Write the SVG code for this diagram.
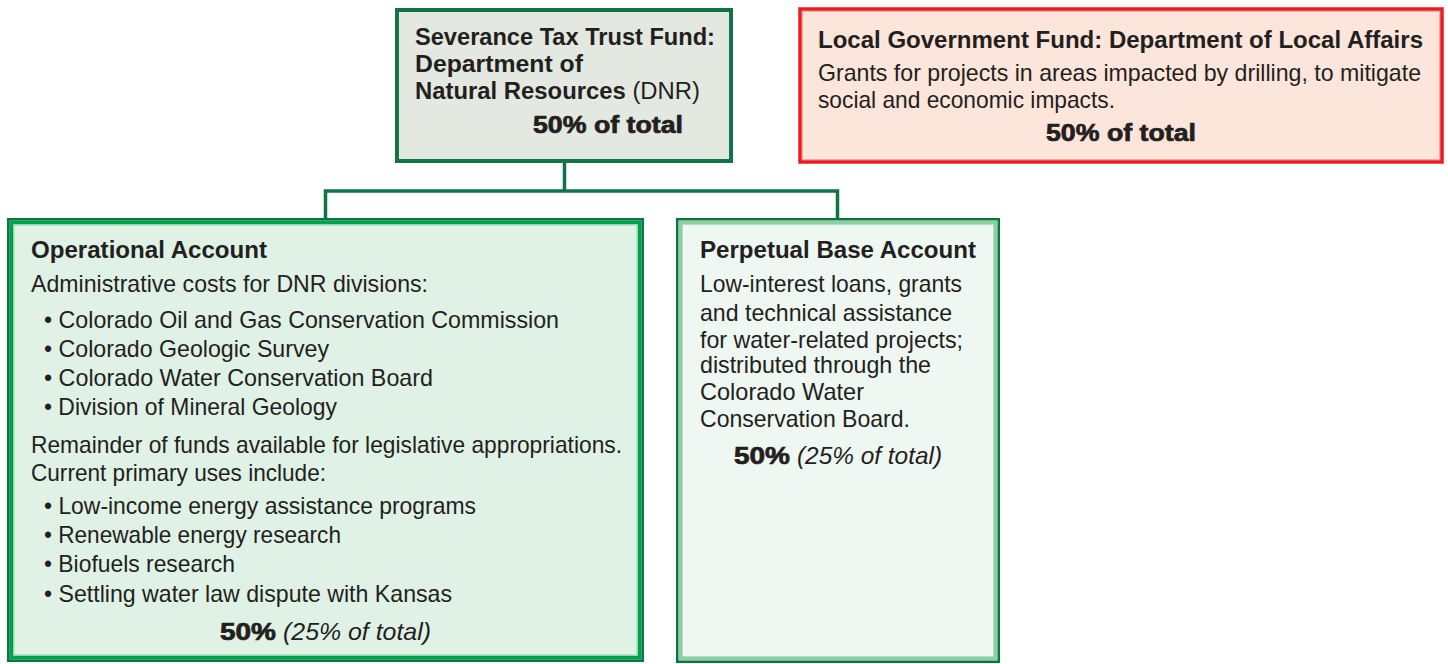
<svg xmlns="http://www.w3.org/2000/svg" width="1448" height="664" viewBox="0 0 1448 664">
  <style>
    text { font-family: "Liberation Sans", Arial, Helvetica, sans-serif; fill: #231f20; font-size: 24px; }
    .b { font-weight: bold; }
    .blk { font-weight: bold; stroke: #231f20; stroke-width: 0.7; }
    .h { font-weight: bold; font-size: 23.5px; }
    .it { font-style: italic; }
    .reg { font-weight: normal; }
    .conn { fill: none; stroke: #117447; stroke-width: 3.5; stroke-linecap: square; }
  </style>

  <!-- connectors -->
  <g id="connectors">
    <path class="conn" d="M564.5,163 V191 M325.5,191 H837.5 M325.5,191 V218 M837.5,191 V218"/>
  </g>

  <!-- Severance Tax Trust Fund -->
  <g id="severance">
    <rect x="397" y="10" width="334" height="151" fill="#e3e8e1" stroke="#117447" stroke-width="4"/>
    <text class="h" x="415" y="45" textLength="300" lengthAdjust="spacingAndGlyphs">Severance Tax Trust Fund:</text>
    <text class="h" x="415" y="72" textLength="168" lengthAdjust="spacingAndGlyphs">Department of</text>
    <text class="h" x="415" y="99" textLength="285" lengthAdjust="spacingAndGlyphs">Natural Resources<tspan class="reg"> (DNR)</tspan></text>
    <text class="blk" x="533" y="133" textLength="150" lengthAdjust="spacingAndGlyphs">50% of total</text>
  </g>

  <!-- Local Government Fund -->
  <g id="local-government">
    <rect x="800" y="9" width="642" height="153" fill="#fce5db" stroke="#ec1c24" stroke-width="3.5"/>
    <rect x="802.5" y="11.5" width="637" height="148" fill="none" stroke="#f4a6a0" stroke-width="1"/>
    <text class="h" x="818" y="48" textLength="605" lengthAdjust="spacingAndGlyphs">Local Government Fund: Department of Local Affairs</text>
    <text x="818" y="81" textLength="603" lengthAdjust="spacingAndGlyphs">Grants for projects in areas impacted by drilling, to mitigate</text>
    <text x="818" y="108" textLength="297" lengthAdjust="spacingAndGlyphs">social and economic impacts.</text>
    <text class="blk" x="1046" y="141" textLength="150" lengthAdjust="spacingAndGlyphs">50% of total</text>
  </g>

  <!-- Operational Account -->
  <g id="operational">
    <rect x="8.3" y="219.3" width="634.4" height="441.4" fill="#e0f1e6" stroke="#0b7541" stroke-width="2.6"/>
    <rect x="11.4" y="222.4" width="628.2" height="435.2" fill="none" stroke="#00a14b" stroke-width="3.6"/>
    <rect x="13.8" y="224.8" width="623.4" height="430.4" fill="none" stroke="#8fd3a6" stroke-width="1.2"/>
    <text class="h" x="31" y="258" textLength="236" lengthAdjust="spacingAndGlyphs">Operational Account</text>
    <text x="31" y="292" textLength="397" lengthAdjust="spacingAndGlyphs">Administrative costs for DNR divisions:</text>
    <text x="44" y="328" textLength="515" lengthAdjust="spacingAndGlyphs">• Colorado Oil and Gas Conservation Commission</text>
    <text x="44" y="357" textLength="285" lengthAdjust="spacingAndGlyphs">• Colorado Geologic Survey</text>
    <text x="44" y="386" textLength="389" lengthAdjust="spacingAndGlyphs">• Colorado Water Conservation Board</text>
    <text x="44" y="415" textLength="293" lengthAdjust="spacingAndGlyphs">• Division of Mineral Geology</text>
    <text x="31" y="453" textLength="591" lengthAdjust="spacingAndGlyphs">Remainder of funds available for legislative appropriations.</text>
    <text x="31" y="481" textLength="295" lengthAdjust="spacingAndGlyphs">Current primary uses include:</text>
    <text x="44" y="514" textLength="432" lengthAdjust="spacingAndGlyphs">• Low-income energy assistance programs</text>
    <text x="44" y="543" textLength="297" lengthAdjust="spacingAndGlyphs">• Renewable energy research</text>
    <text x="44" y="572" textLength="191" lengthAdjust="spacingAndGlyphs">• Biofuels research</text>
    <text x="44" y="602" textLength="408" lengthAdjust="spacingAndGlyphs">• Settling water law dispute with Kansas</text>
    <text class="blk" x="220" y="640" textLength="56" lengthAdjust="spacingAndGlyphs">50%</text>
    <text class="it" x="283" y="640" textLength="148" lengthAdjust="spacingAndGlyphs">(25% of total)</text>
  </g>

  <!-- Perpetual Base Account -->
  <g id="perpetual">
    <rect x="677.3" y="219.3" width="321.4" height="442.4" fill="#eef7f1" stroke="#0b7541" stroke-width="2.6"/>
    <rect x="680.6" y="222.6" width="314.8" height="435.8" fill="none" stroke="#8bcfa2" stroke-width="4"/>
    <text class="h" x="700" y="258" textLength="276" lengthAdjust="spacingAndGlyphs">Perpetual Base Account</text>
    <text x="700" y="292" textLength="262" lengthAdjust="spacingAndGlyphs">Low-interest loans, grants</text>
    <text x="700" y="321" textLength="252" lengthAdjust="spacingAndGlyphs">and technical assistance</text>
    <text x="700" y="348" textLength="263" lengthAdjust="spacingAndGlyphs">for water-related projects;</text>
    <text x="700" y="373" textLength="231" lengthAdjust="spacingAndGlyphs">distributed through the</text>
    <text x="700" y="400" textLength="164" lengthAdjust="spacingAndGlyphs">Colorado Water</text>
    <text x="700" y="427" textLength="210" lengthAdjust="spacingAndGlyphs">Conservation Board.</text>
    <text class="blk" x="734" y="464" textLength="56" lengthAdjust="spacingAndGlyphs">50%</text>
    <text class="it" x="797" y="464" textLength="145" lengthAdjust="spacingAndGlyphs">(25% of total)</text>
  </g>
</svg>
